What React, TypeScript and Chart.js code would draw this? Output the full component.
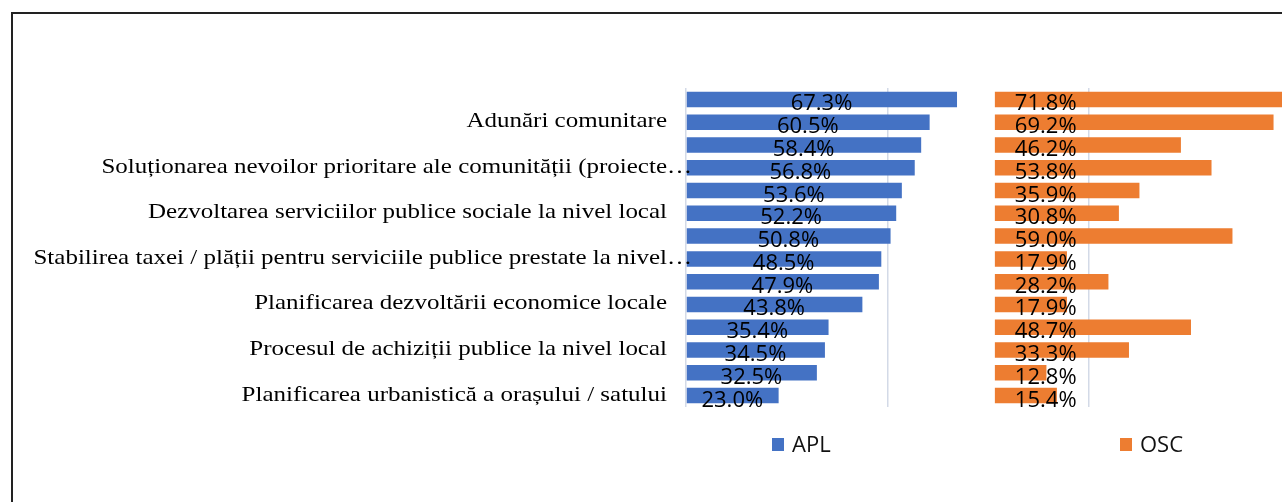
import React, { useEffect, useRef } from 'react';
import { Chart, registerables } from 'chart.js';

Chart.register(...registerables);

// Categories (only every second one carries a visible label in the source)
const CATEGORIES: string[] = [
  '',
  'Adunări comunitare',
  '',
  'Soluționarea nevoilor prioritare ale comunității (proiecte…',
  '',
  'Dezvoltarea serviciilor publice sociale la nivel local',
  '',
  'Stabilirea taxei / plății pentru serviciile publice prestate la nivel…',
  '',
  'Planificarea dezvoltării economice locale',
  '',
  'Procesul de achiziții publice la nivel local',
  '',
  'Planificarea urbanistică a orașului / satului',
];

const SERIES_NAMES = ['APL', 'OSC'];
const APL = [67.3, 60.5, 58.4, 56.8, 53.6, 52.2, 50.8, 48.5, 47.9, 43.8, 35.4, 34.5, 32.5, 23.0];
const OSC = [71.8, 69.2, 46.2, 53.8, 35.9, 30.8, 59.0, 17.9, 28.2, 17.9, 48.7, 33.3, 12.8, 15.4];

// Shared value axis: the OSC panel starts at this offset
const OSC_BASE = 76.7;
const X_MAX = 148;
const GRID_VALUES = [0, 50, 100];

const BLUE = '#4472C4';
const ORANGE = '#ED7D31';

export default function App() {
  const ref = useRef<HTMLCanvasElement>(null);

  useEffect(() => {
    const canvas = ref.current;
    if (!canvas) return;

    const labelsPlugin = {
      id: 'customLabels',
      afterDatasetsDraw(chart: any) {
        const ctx: CanvasRenderingContext2D = chart.ctx;
        const xs = chart.scales.x;
        const ys = chart.scales.y;
        const area = chart.chartArea;
        ctx.save();

        // Category labels (serif, slightly stretched like the source)
        const stretch = 1.19;
        ctx.fillStyle = '#000000';
        ctx.font = '21px "Liberation Serif"';
        ctx.textAlign = 'left';
        ctx.textBaseline = 'alphabetic';
        CATEGORIES.forEach((lab, i) => {
          if (!lab) return;
          const y = ys.getPixelForValue(i);
          const core = lab.endsWith('…') ? lab.slice(0, -1) : lab;
          const w = ctx.measureText(core).width * stretch;
          ctx.save();
          ctx.translate(area.left - 19 - w, y + 5);
          ctx.scale(stretch, 1);
          ctx.fillText(lab, 0, 0);
          ctx.restore();
        });

        // Value labels
        ctx.font = '22px "Open Sans"';
        ctx.fillStyle = '#000000';
        APL.forEach((v, i) => {
          const y = ys.getPixelForValue(i);
          ctx.textAlign = 'center';
          const cx = (xs.getPixelForValue(0) + xs.getPixelForValue(v)) / 2;
          ctx.fillText(v.toFixed(1) + '%', cx, y + 11);
        });
        OSC.forEach((v, i) => {
          const y = ys.getPixelForValue(i);
          ctx.textAlign = 'left';
          ctx.fillText(v.toFixed(1) + '%', xs.getPixelForValue(OSC_BASE) + 20, y + 11);
        });

        // Legend
        const legendItems = [
          { name: SERIES_NAMES[0], color: BLUE, x: 772 },
          { name: SERIES_NAMES[1], color: ORANGE, x: 1120 },
        ];
        ctx.textAlign = 'left';
        legendItems.forEach((it) => {
          ctx.fillStyle = it.color;
          ctx.fillRect(it.x, 438, 12, 13);
          ctx.fillStyle = '#111111';
          ctx.fillText(it.name, it.x + 20, 452);
        });

        ctx.restore();
      },
    };

    const chart = new Chart(canvas, {
      type: 'bar',
      data: {
        labels: CATEGORIES,
        datasets: [
          {
            label: SERIES_NAMES[0],
            data: APL,
            backgroundColor: BLUE,
            borderWidth: 0,
            grouped: false,
            barPercentage: 0.68,
            categoryPercentage: 1,
          } as any,
          {
            label: SERIES_NAMES[1],
            data: OSC.map((v) => [OSC_BASE, OSC_BASE + v]),
            backgroundColor: ORANGE,
            borderWidth: 0,
            grouped: false,
            barPercentage: 0.68,
            categoryPercentage: 1,
          } as any,
        ],
      },
      options: {
        indexAxis: 'y',
        animation: false,
        responsive: false,
        devicePixelRatio: 1,
        layout: { padding: { left: 686, top: 88, right: 0, bottom: 95 } },
        plugins: {
          legend: { display: false },
          tooltip: { enabled: false },
        },
        scales: {
          x: {
            min: 0,
            max: X_MAX,
            afterBuildTicks: (axis: any) => {
              axis.ticks = GRID_VALUES.map((v) => ({ value: v }));
            },
            ticks: { display: false },
            grid: {
              color: '#d3dae7',
              lineWidth: 1.5,
              drawTicks: false,
            },
            border: { display: false },
          },
          y: { display: false },
        },
      },
      plugins: [labelsPlugin],
    } as any);

    return () => chart.destroy();
  }, []);

  return (
    <div
      style={{
        position: 'fixed',
        left: 0,
        top: 0,
        width: 1282,
        height: 502,
        overflow: 'hidden',
        background: '#ffffff',
      }}
    >
      <div
        style={{
          position: 'absolute',
          left: 11,
          top: 12,
          width: 1400,
          height: 600,
          border: '2px solid #222222',
        }}
      />
      <canvas
        ref={ref}
        width={1282}
        height={502}
        style={{ position: 'absolute', left: 0, top: 0, width: 1282, height: 502 }}
      />
    </div>
  );
}
